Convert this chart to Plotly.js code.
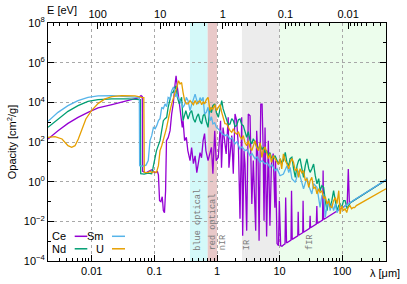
<!DOCTYPE html>
<html><head><meta charset="utf-8">
<script src="https://cdn.plot.ly/plotly-3.0.1.min.js"></script>
<style>html,body{margin:0;padding:0;background:#fff}#chart{width:407px;height:284px}</style>
</head><body><div id="chart"></div>
<script>
// ---- data (wavelength in micron, opacity in cm^2/g) ----
const ceX = [0.002,0.00289,0.00417,0.00603,0.00871,0.0126,0.021,0.0379,0.0548,0.0612,
 0.0641,0.065,0.0735,0.0851,0.0916,0.102,0.112,0.116,0.121,0.127,
 0.1335,0.139,0.145,0.151,0.156,0.166,0.178,0.189,0.200,0.214,
 0.222,0.233,0.241,0.262,0.279,0.287,0.304,0.324,0.342,0.371,
 0.393,0.42,0.447,0.476,0.512,0.536,0.566,0.6,0.633,0.665,
 0.72,0.815,0.86,0.92,0.97,1.05,1.14,1.18,1.25,1.4,
 1.51,1.55,1.72,1.82,1.94,2.06,2.2,2.33,2.48,2.57,
 2.7,2.8,2.98,3.16,3.37,3.6,3.8,4.15,4.3,4.53,
 4.7,5.0,5.25,5.45,5.64,5.85,6.2,6.6,7.0,7.4,
 7.9,8.4,8.6,9.1,9.6,9.9,10.4,10.9,11.6,12.2,
 12.5,12.9,15.2,15.5,15.9,19.5,19.8,20.2,23.4,23.7,
 24.1,30.2,30.7,31.2,38.5,39.3,40,48.5,49.5,50.5,
 120,125,130,200,300,500];
const ceY = [142,373,871,1750,3130,5210,7640,1.22e4,1.66e4,2.17e4,
 1.93e4,3.3,2.8,3.6,4.0,2.8,3.2,2.2,0.110,0.098,
 0.175,0.0345,0.027,0.35,117,166,373,2600,8200,8.4e4,
 2.2e5,5.7e4,2.6e4,2600,545,1190,117,171,37,11.5,
 52,8.1,20,2.84,11.5,29,16,117,264,37,
 11.5,54,2.5,373,11.5,17,1190,5.1,540,25,
 1750,5.1,209,2.5,2600,1190,54,0.0136,1750,0.0019,
 37,7.8,0.0034,2600,2100,0.075,11.5,0.0034,373,11.5,
 0.00106,8200,8200,54,0.0108,540,0.0017,117,0.006,7.8,
 26,0.049,11.5,7.5e-4,5.9e-4,0.11,5.9e-4,5.5e-4,6.6e-4,7.3e-4,
 0.16,8.1e-4,1.13e-3,0.35,1.23e-3,1.86e-3,0.03,2.0e-3,2.67e-3,0.11,
 2.83e-3,4.45e-3,0.019,4.75e-3,7.2e-3,0.06,7.8e-3,0.0115,3.6,0.0124,
 0.070,4.4,0.082,0.195,0.44,1.22];

const ndX = [0.002,0.00289,0.00417,0.00603,0.00871,0.0126,0.021,0.0379,0.0548,0.0596,
 0.0605,0.0684,0.0791,0.0903,0.0945,0.1,0.108,0.123,0.131,0.139,
 0.148,0.157,0.166,0.178,0.189,0.198,0.206,0.222,0.233,0.250,
 0.272,0.287,0.318,0.345,0.371,0.394,0.42,0.447,0.476,0.505,
 0.536,0.57,0.6,0.633,0.675,0.72,0.77,0.815,0.86,0.92,
 0.98,1.05,1.12,1.19,1.25,1.34,1.43,1.51,1.615,1.72,
 1.82,1.94,2.06,2.2,2.33,2.48,2.63,2.8,2.98,3.16,
 3.37,3.6,3.8,4.05,4.3,4.6,4.88,5.2,5.5,5.85,
 6.2,6.6,7.0,7.4,7.9,8.45,9.0,9.6,10.2,10.8,
 11.5,12.3,13.1,14.0,14.7,15.7,16.7,17.8,19,20.1,
 21.2,22.6,24.1,25.7,27.3,29.2,30.7,32.7,34.9,37.1,
 39.5,42.1,44.3,47.3,50.5,53.6,57.2,60.8,64,68.3,
 72.8,77.5,82.5,88,92.5,98.4,104.8,111,120,133,
 150,200,300,500];
const ndY = [547,1450,3510,6800,1.12e4,1.36e4,1.48e4,1.48e4,1.45e4,1.36e4,
 2.53,2.4,2.7,2.53,4.5,11.5,37,117,373,1190,
 1500,1750,5600,1.22e4,3.2e4,3.1e4,3.9e4,6.9e4,1.8e4,8300,
 1.8e4,1190,3800,1450,3000,3800,1500,980,1900,2600,
 1190,810,2100,2600,1050,545,5600,3000,6800,8300,
 3000,1750,4800,1.22e4,4800,2600,1330,750,810,1500,
 1190,600,667,1330,1450,750,667,373,171,330,
 117,80,147,96,58,44,82,41,54,29,
 37,20.5,29,16,14,20.5,11.5,7.8,14.5,9.1,
 11.5,30,9.1,6.4,14.5,17,4.5,1.65,6.4,11.5,
 14.5,4.5,1.65,6.4,14,4.5,2.95,4.5,7.8,2.0,
 0.77,1.42,0.35,0.63,0.52,0.11,0.0345,0.139,0.05,0.11,
 0.35,0.11,0.0345,0.062,0.075,0.049,0.11,0.11,0.043,0.085,
 0.108,0.192,0.432,1.2];

const smX = [0.002,0.00289,0.00417,0.00603,0.00871,0.0126,0.021,0.0379,0.0548,0.0575,
 0.0581,0.0655,0.0735,0.0798,0.0851,0.0907,0.0965,0.103,0.109,0.116,
 0.123,0.131,0.139,0.148,0.157,0.166,0.178,0.189,0.200,0.208,
 0.218,0.229,0.243,0.257,0.272,0.287,0.304,0.324,0.345,0.371,
 0.394,0.42,0.447,0.476,0.505,0.536,0.57,0.6,0.633,0.675,
 0.72,0.774,0.815,0.86,0.92,0.98,1.05,1.12,1.2,1.34,
 1.45,1.615,1.74,1.94,2.09,2.33,2.51,2.8,3.02,3.37,
 3.63,4.05,4.37,4.88,5.25,5.85,6.3,7.0,7.57,8.45,
 9.1,10.2,11.5,13.1,14.0,14.7,15.7,17.8,20.1,21.2,
 24.1,27.3,29.2,32.7,34.9,39.5,42.1,44.3,47.3,50.5,
 53.6,57.2,60.8,64,68.3,72.8,77.5,82.5,88,92.5,
 98.4,104.8,150,200,300,500];
const smY = [1100,3130,6800,1.22e4,1.78e4,2.1e4,2.17e4,2.0e4,1.78e4,1.72e4,
 6.4,6.0,6.8,11.5,117,209,545,470,667,1190,
 1500,5600,4800,8300,6100,1.78e4,1.53e4,3.9e4,5.7e4,4.9e4,
 1.93e4,2.6e4,1.53e4,1.22e4,8600,5600,7600,1.78e4,1.22e4,3800,
 7600,1.53e4,2.6e4,1.22e4,8300,1.72e4,1.22e4,1.78e4,2600,3130,
 5600,1190,1900,810,940,545,470,373,264,209,
 235,142,166,80,104,44,58,36.5,41,20.5,
 26,14,18,9.4,11.5,7.8,9.1,5.3,7.2,3.6,
 4.5,2.0,2.45,6.4,2.84,5.3,1.42,0.92,3.6,2.0,
 0.43,1.65,0.63,0.24,0.79,0.52,0.175,0.05,0.197,0.24,
 0.016,0.062,0.11,0.0345,0.078,0.0345,0.075,0.0275,0.042,0.069,
 0.05,0.052,0.1125,0.2,0.45,1.25];

const uX = [0.002,0.00259,0.00335,0.00417,0.00478,0.0054,0.0061,0.0069,0.00805,0.0099,
 0.0127,0.0163,0.0209,0.0299,0.0491,0.0627,0.0678,0.0691,0.0791,0.0851,
 0.0916,0.0986,0.108,0.116,0.123,0.131,0.139,0.148,0.157,0.166,
 0.178,0.189,0.200,0.214,0.229,0.243,0.257,0.272,0.287,0.304,
 0.324,0.345,0.371,0.394,0.42,0.447,0.476,0.505,0.536,0.57,
 0.6,0.633,0.675,0.72,0.774,0.815,0.86,0.92,0.98,1.05,
 1.12,1.19,1.25,1.34,1.43,1.51,1.615,1.72,1.82,1.94,
 2.06,2.2,2.33,2.48,2.63,2.8,2.98,3.16,3.37,3.6,
 3.8,4.05,4.3,4.6,4.88,5.2,5.5,5.85,6.2,6.6,
 7.0,7.4,7.9,8.45,9.0,9.6,10.2,10.8,11.5,12.3,
 13.1,14.0,14.7,15.7,16.7,17.8,19,20.1,21.2,22.6,
 24.1,25.7,27.3,29.2,30.7,32.7,34.9,37.1,39.5,42.1,
 44.3,47.3,50.5,53.6,57.2,60.8,64,68.3,72.8,77.5,
 82.5,88,92.5,98.4,104.8,111,118,124,133,141,
 150,158,168,193,279,402,500];
const uY = [171,186,142,65,54,65,142,373,1450,3800,
 8900,1.48e4,1.93e4,2.17e4,2.1e4,1.78e4,1.72e4,2.95,2.84,3.4,
 2.84,3.2,2.95,6.4,37,65,117,264,545,1500,
 3800,8600,1.78e4,3.1e4,5.7e4,1.24e5,8.4e4,1.0e5,3.2e4,1.22e4,
 8300,8300,1.22e4,1.0e4,7600,1.22e4,8300,1.08e4,1.22e4,7600,
 1.08e4,8300,1.36e4,1.78e4,3800,5400,4600,7600,3800,5600,
 7600,3130,1900,840,810,528,373,305,470,295,
 254,330,186,142,209,92,65,117,52,37,
 73,117,54,37,92,16.8,37,58,30,14.5,
 26,9.4,20.5,14.5,11.5,7.2,14.5,4.4,25,11.5,
 7.8,4.4,9.4,14.5,9.4,3.6,4.5,1.65,4.5,2.84,
 3.6,1.12,1.42,0.52,1.12,1.65,0.44,0.56,0.24,0.44,
 0.28,0.35,0.139,0.175,0.075,0.11,0.055,0.05,0.11,0.16,
 0.078,0.35,0.0235,0.062,0.0345,0.043,0.028,0.049,0.062,0.043,
 0.05,0.049,0.062,0.08,0.156,0.30,0.44];

const seriesNames = ['Ce','Nd','Sm','U'];
const bandNames = ['blue optical','red optical','nIR','IR','fIR'];
const bandStart = [0.37,0.71,1.0,2.5,10];
const bandEnd   = [0.71,1.0,2.5,10,500];
const bandLabelAt = [0.503,0.875,1.26,3.1,30.6];
const xTickVals = [0.01,0.1,1,10,100];
const xTickText = ['0.01','0.1','1','10','100'];
const eTickVals = [100,10,1,0.1,0.01];
const eTickText = ['100','10','1','0.1','0.01'];
const yTickVals = [1e-4,1e-2,1,1e2,1e4,1e6,1e8];
const yTickText = ['10<sup>−4</sup>','10<sup>−2</sup>','10<sup>0</sup>','10<sup>2</sup>','10<sup>4</sup>','10<sup>6</sup>','10<sup>8</sup>'];

// ---- styling ----
const colors = ['#9400d3','#009e73','#56b4e9','#e69f00'];
const bandColors = ['#d4f9f9','#e9c9c9','rgba(0,0,0,0)','#ececec','#ecfdec'];
const FONT = 'Liberation Sans, Arial, sans-serif';
const HC = 1.23984; // eV*micron
const xMin = 0.002, xMax = 500;

function minorVals(lo, hi){ const out=[]; for(let d=-4; d<=3; d++){ for(let m=2;m<=9;m++){ const v=m*Math.pow(10,d); if(v>lo && v<hi) out.push(v);} } return out; }

const xs=[ceX,ndX,smX,uX], ys=[ceY,ndY,smY,uY];
const traces = xs.map((x,i)=>({x:x,y:ys[i],type:'scatter',mode:'lines',name:seriesNames[i],
  line:{color:colors[i],width:1.3},showlegend:false,hoverinfo:'skip'}));
traces.push({x:[1],y:[1],xaxis:'x2',yaxis:'y',mode:'markers',marker:{opacity:0},showlegend:false,hoverinfo:'skip'});

const shapes = bandNames.map((n,i)=>({type:'rect',xref:'x',yref:'paper',x0:bandStart[i],x1:bandEnd[i],y0:0,y1:1,
  fillcolor:bandColors[i],line:{width:0},layer:'below'}));
// legend background and samples
shapes.push({type:'rect',xref:'paper',yref:'paper',x0:0.008,x1:0.235,y0:0.02,y1:0.145,fillcolor:'#ffffff',line:{width:0},layer:'below'});
const legX = [[0.079,0.1163],[0.079,0.1163],[0.1893,0.2278],[0.1893,0.2278]];
const legY = [0.1038,0.0513,0.1038,0.0513];
const legTX = [0.0592,0.0592,0.1716,0.1716];
for(let i=0;i<4;i++){
  shapes.push({type:'line',xref:'paper',yref:'paper',x0:legX[i][0],x1:legX[i][1],y0:legY[i],y1:legY[i],line:{color:colors[i],width:1.5}});
}
const annotations = [];
for(let i=0;i<4;i++){
  annotations.push({xref:'paper',yref:'paper',x:legTX[i],y:legY[i],text:seriesNames[i],showarrow:false,xanchor:'right',yanchor:'middle',font:{family:FONT,size:11,color:'#000'}});
}
bandNames.forEach((n,i)=>{
  annotations.push({xref:'x',yref:'paper',x:Math.log10(bandLabelAt[i]),y:0.036,text:n,textangle:-90,showarrow:false,
    xanchor:'center',yanchor:'bottom',font:{family:'Liberation Mono, Courier New, monospace',size:8.6,color:'#7a7a7a'}});
});
annotations.push({xref:'paper',yref:'paper',x:0.041,y:1.053,text:'E [eV]',showarrow:false,xanchor:'center',yanchor:'middle',font:{family:FONT,size:11,color:'#000'}});
annotations.push({xref:'paper',yref:'paper',x:0.9956,y:-0.052,text:'λ [μm]',showarrow:false,xanchor:'center',yanchor:'middle',font:{family:FONT,size:11,color:'#000'}});

const axCommon = {type:'log',ticks:'inside',ticklen:6,tickcolor:'#000',showline:true,linecolor:'#000',linewidth:1,
  tickfont:{family:FONT,size:11,color:'#000'},zeroline:false};

const layout = {
  width:407,height:284,margin:{l:48,r:21,t:23,b:23},
  paper_bgcolor:'#fff',plot_bgcolor:'rgba(0,0,0,0)',
  font:{family:FONT,size:11,color:'#000'},
  xaxis:Object.assign({},axCommon,{range:[Math.log10(xMin),Math.log10(xMax)],tickmode:'array',tickvals:xTickVals,ticktext:xTickText,
    showgrid:true,gridcolor:'#a8a8a8',griddash:'dot',gridwidth:1,
    minor:{tickmode:'array',tickvals:minorVals(xMin,xMax),ticks:'inside',ticklen:3,tickcolor:'#000',showgrid:false}}),
  xaxis2:Object.assign({},axCommon,{overlaying:'x',side:'top',anchor:'y',range:[Math.log10(HC/xMin),Math.log10(HC/xMax)],
    tickmode:'array',tickvals:eTickVals,ticktext:eTickText,showgrid:false,
    minor:{tickmode:'array',tickvals:minorVals(HC/xMax,HC/xMin),ticks:'inside',ticklen:3,tickcolor:'#000',showgrid:false}}),
  yaxis:Object.assign({},axCommon,{range:[-4,8],tickmode:'array',tickvals:yTickVals,ticktext:yTickText,mirror:'ticks',
    showgrid:true,gridcolor:'#a8a8a8',griddash:'dot',gridwidth:1,
    title:{text:'Opacity [cm<sup>2</sup>/g]',font:{family:FONT,size:11,color:'#000'},standoff:4},
    minor:{tickmode:'array',tickvals:[1e-3,1e-1,10,1e3,1e5,1e7],ticks:'inside',ticklen:3,tickcolor:'#000',showgrid:false}}),
  shapes:shapes,annotations:annotations,showlegend:false
};
Plotly.newPlot('chart',traces,layout,{staticPlot:true,displayModeBar:false});
</script></body></html>
